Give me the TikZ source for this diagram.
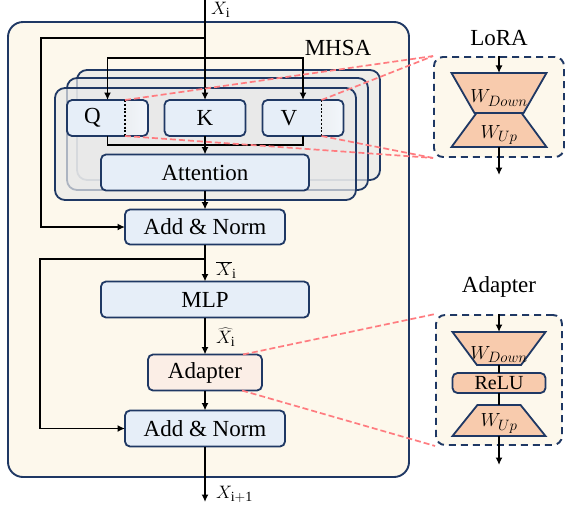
\RequirePackage{fix-cm}
\documentclass[tikz,border=0pt]{standalone}
\usepackage{fontspec}
\setmainfont{Liberation Serif}
\usetikzlibrary{positioning,arrows.meta,shapes.geometric}
\DeclareMathSizes{18}{18}{14}{10}
\DeclareMathSizes{19}{19}{15}{11}

\definecolor{navy}{HTML}{1F3864}
\definecolor{cream}{HTML}{FDF8EC}
\definecolor{boxblue}{HTML}{E6EEF8}
\definecolor{layergray}{HTML}{E9E9E9}
\definecolor{salmon}{HTML}{F8CBAD}
\definecolor{adafill}{HTML}{FBEEE6}
\definecolor{pinkline}{HTML}{FF7C80}

\tikzset{
  encoder/.style={draw=navy, line width=1.9pt, rounded corners=15pt, fill=cream, minimum width=401pt, minimum height=455pt},
  head/.style={draw=navy, line width=1.8pt, rounded corners=10pt, fill=layergray, fill opacity=0.7, outer sep=0pt},
  block/.style={draw=navy, line width=1.8pt, rounded corners=5pt, fill=boxblue, inner sep=0pt, outer sep=0pt,
    minimum height=36pt, font=\fontsize{23}{27}\selectfont},
  qkv/.style={block, minimum width=81pt},
  proj/.style={qkv, path picture={\shade[left color=gray!30, right color=boxblue!50!white]
    ([xshift=-23pt]path picture bounding box.north east) rectangle (path picture bounding box.south east);}},
  panel/.style={draw=navy, line width=1.9pt, dash pattern=on 7pt off 5pt, rounded corners=9pt, fill=cream},
  wshrink/.style={trapezium, draw=navy, line width=1.8pt, fill=salmon, trapezium stretches=true,
    inner sep=2pt, outer sep=0pt, shape border rotate=180},
  wgrow/.style={trapezium, draw=navy, line width=1.8pt, fill=salmon, trapezium stretches=true,
    inner sep=2pt, outer sep=0pt},
  title/.style={font=\fontsize{23}{27}\selectfont, inner sep=0pt},
  sym/.style={font=\fontsize{18}{22}\selectfont, inner sep=0pt},
  wlabel/.style={font=\fontsize{19}{22}\selectfont, inner sep=0pt},
  line/.style={line width=1.9pt},
  arr/.style={line width=1.9pt, -{Latex[length=7.5pt,width=7pt]}},
  dotline/.style={line width=1.9pt, dash pattern=on 1.9pt off 1.9pt},
  redline/.style={draw=pinkline, line width=1.7pt, dash pattern=on 6pt off 3pt}
}

\begin{document}
\begin{tikzpicture}[x=1pt, y=-1pt]
\useasboundingbox[fill=white] (0,0) rectangle (565,512);

\node[encoder] (enc) at (208.5,249.5) {};
\node[title] (mhsa) at (338,48) {MHSA};

\node[head, minimum width=303pt, minimum height=110pt] (head3) at (228.5,125) {};
\node[head, minimum width=301pt, minimum height=112pt] (head2) at (217.5,134) {};
\node[head, minimum width=301pt, minimum height=112pt] (head1) at (205.5,144) {};

\node[proj] (q) at (107.5,118) {Q\hspace*{30pt}};
\node[qkv] (k) at (205,118) {K};
\node[proj] (v) at (303,118) {V\hspace*{28pt}};
\node[block, minimum width=208pt] (attn) at (205,172.5) {Attention};
\node[block, minimum width=160pt, minimum height=35pt, below=19pt of attn] (add1) {Add \& Norm};
\node[block, minimum width=208pt, below=37pt of add1] (mlp) {MLP};
\node[block, minimum width=114pt, fill=adafill, below=37pt of mlp] (ada) {Adapter};
\node[block, minimum width=160pt, below=20pt of ada] (add2) {Add \& Norm};

\coordinate (qtop) at ([xshift=-23pt]q.north east);
\coordinate (qbot) at ([xshift=-23pt]q.south east);
\coordinate (vtop) at ([xshift=-22pt]v.north east);
\coordinate (vbot) at ([xshift=-22pt]v.south east);
\draw[dotline] (qtop) -- (qbot);
\draw[dotline] (vtop) -- (vbot);

\coordinate (xin) at (205,0);
\coordinate (res1) at (41,38);
\coordinate (split) at (205,58);
\coordinate (merge) at (205,145);
\coordinate (res2) at (40,259);
\coordinate (xout) at (205,502);

\draw[arr] (xin) -- (k);
\draw[arr] (k |- res1) -- (res1) |- (add1);
\draw[arr] (split) -| (q);
\draw[arr] (split) -| (v);
\draw[line] (q) |- (merge) -| (v);
\draw[arr] (k) -- (attn);
\draw[arr] (attn) -- (add1);
\draw[arr] (add1) -- (mlp);
\draw[arr] (add1 |- res2) -- (res2) |- (add2);
\draw[arr] (mlp) -- (ada);
\draw[arr] (ada) -- (add2);
\draw[arr] (add2) -- (xout);

\node[sym, anchor=west] (xi) at (211,10) {$X_{\mathrm{i}}$};
\node[sym, anchor=west] (xbar) at (216,270) {$\overline{X}_{\mathrm{i}}$};
\node[sym, anchor=west] (xhat) at (216,337) {$\widehat{X}_{\mathrm{i}}$};
\node[sym, anchor=west] (xnext) at (216,494) {$X_{\mathrm{i+1}}$};

\node[title] (loralbl) at (499,38) {LoRA};
\node[panel, minimum width=130pt, minimum height=100pt] (lorabox) at (499,107) {};
\node[wshrink, trapezium angle=65, minimum width=95pt, minimum height=40pt] (ldown) at (499,93) {};
\node[wgrow, trapezium angle=61, minimum width=95pt, minimum height=34pt] (lup) at (499,130) {};
\node[wlabel] (ldownt) at ([yshift=-5pt]ldown.center) {$W_{Down}$};
\node[wlabel] (lupt) at ([yshift=-5pt]lup.center) {$W_{Up}$};
\coordinate (lout) at (499,175);
\draw[arr] (lorabox.north) -- (ldown);
\draw[arr] (lup) -- (lout);

\node[title] (adalbl) at (499,287) {Adapter};
\node[panel, minimum width=126pt, minimum height=130pt] (adabox) at (499,380) {};
\node[wshrink, trapezium angle=61, minimum width=93pt, minimum height=33pt] (adown) at (499,348.5) {};
\node[block, minimum width=93pt, minimum height=20pt, fill=salmon, font=\fontsize{20}{24}\selectfont] (relu) at (499,383) {ReLU};
\node[wgrow, trapezium angle=60, minimum width=93pt, minimum height=31pt] (aup) at (499,420.5) {};
\node[wlabel] (adownt) at ([yshift=-6pt]adown.center) {$W_{Down}$};
\node[wlabel] (aupt) at ([yshift=-3pt]aup.center) {$W_{Up}$};
\coordinate (aout) at (499,465);
\draw[arr] (adabox.north) -- (adown);
\draw[line] (adown) -- (relu);
\draw[line] (relu) -- (aup);
\draw[arr] (aup) -- (aout);

\draw[redline] (qtop) -- (lorabox.north west);
\draw[redline] (vtop) -- (lorabox.north west);
\draw[redline] (qbot) -- (lorabox.south west);
\draw[redline] (vbot) -- (lorabox.south west);
\draw[redline] ([xshift=-19pt]ada.north east) -- (adabox.north west);
\draw[redline] ([xshift=-20pt]ada.south east) -- (adabox.south west);

\end{tikzpicture}
\end{document}
